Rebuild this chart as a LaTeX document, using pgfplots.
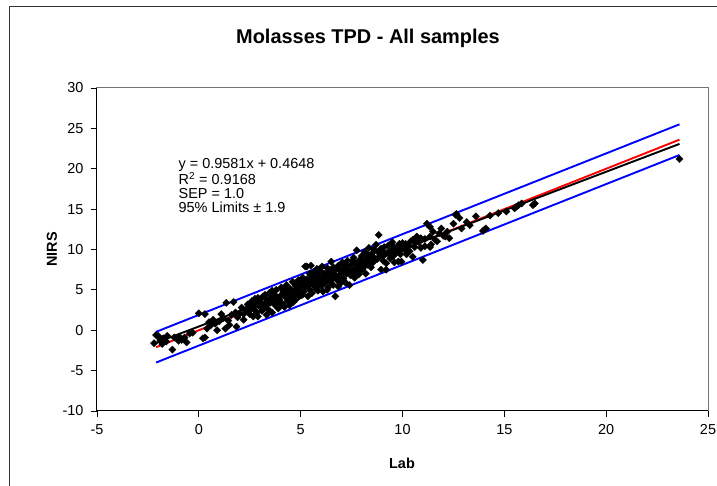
\documentclass[border=0pt]{standalone}
\usepackage{pgfplots}
\pgfplotsset{compat=1.18}
\usepackage{fontspec}
\setmainfont{Liberation Sans}
\begin{document}
\begin{tikzpicture}[x=1bp,y=1bp]
\useasboundingbox (-97,-75) rectangle (620,411);
\draw[line width=1bp, black!80] (-87,-90) -- (-87,404) -- (640,404);
\begin{axis}[
  at={(0,0)}, anchor=south west,
  scale only axis, width=611bp, height=323bp,
  xmin=-5, xmax=25, ymin=-10, ymax=30,
  xtick={-5,0,...,25}, ytick={-10,-5,...,30},
  xtick pos=left, ytick pos=left,
  tick align=outside, major tick length=6bp,
  tick style={black, line width=0.8bp},
  axis line style={draw=black!55, line width=1bp},
  /pgf/number format/assume math mode=true,
  ticklabel style={font=\fontsize{14.5}{17}\selectfont},
  xticklabel style={yshift=-4bp},
  yticklabel style={xshift=-4bp},
  clip=false,
]
\addplot[blue, line width=1.9bp] coordinates {(-2.1,-0.2) (23.6,25.5)};
\addplot[blue, line width=1.9bp] coordinates {(-2.1,-4.0) (23.6,21.7)};
\addplot[red, line width=1.9bp] coordinates {(-2.1,-2.1) (23.6,23.6)};
\addplot[only marks, mark=square*, mark size=2.6bp, mark options={rotate=45, fill=black, draw=black, line width=0.2bp}] coordinates {
(-2.1,-0.6) (-2.0,-0.7) (-1.9,-1.2) (-1.75,-1.0) (-1.6,-1.4) (-1.55,-0.7) (-1.3,-2.4) (-1.2,-0.9) (-0.95,-0.8) (-0.85,-1.2) (-0.6,-1.5) (-0.45,-0.4) (-0.3,-0.3) (-0.7,-0.9) (-1.0,-1.3) (-2.2,-1.6) (-1.8,-1.7)
(0.3,2.0) (0.3,-0.9) (0.2,-1.0) (0.6,0.65) (0.9,0.0) (1.2,1.5) (1.3,0.2) (1.5,0.65) (1.85,0.45) (1.35,3.4) (1.7,3.5) (0.0,2.1) (0.5,1.0) (0.7,1.3) (1.0,1.1) (1.1,2.0) (1.6,1.9) (1.8,2.2) (1.9,1.6) (0.4,0.2) (0.8,0.8) (1.45,1.2)
(2.0,2.1) (2.2,1.3) (2.3,2.5) (2.35,2.5) (2.67,1.7) (2.9,1.7) (3.0,2.9) (3.33,1.9) (2.1,2.8) (2.4,3.2) (2.5,2.0) (2.6,3.6) (2.7,2.6) (2.8,3.3) (2.9,4.0) (3.0,3.5) (3.1,2.4) (3.15,4.2) (3.2,3.0) (3.3,3.9) (3.4,2.6) (3.45,4.6) (3.5,3.4) (3.55,4.0) (3.6,2.2) (3.7,4.4) (3.75,3.1) (3.8,5.0) (3.85,3.7) (3.9,2.7) (4.0,4.2) (4.05,5.3) (4.1,3.3) (4.15,4.8) (4.2,2.9) (4.25,4.1) (4.3,5.6) (4.35,3.6) (4.4,4.6) (4.45,3.1) (4.5,5.1) (4.55,4.0) (4.6,6.0) (4.65,3.5) (4.7,4.9) (4.75,5.5) (4.8,3.9) (4.85,4.5) (4.9,6.2) (4.95,5.0) (2.2,2.0) (2.55,2.9) (2.75,3.9) (3.05,3.9) (3.25,4.4) (3.65,3.6) (3.95,3.8) (4.35,4.9) (4.75,4.2) (3.35,3.2)
(2.45,2.4) (2.65,3.0) (2.85,2.2) (3.1,3.3) (3.25,2.8) (3.45,3.8) (3.6,4.9) (3.8,4.2) (3.95,3.2) (4.1,4.5) (4.2,5.1) (4.4,3.9) (4.55,4.6) (4.7,5.8) (4.85,5.2)
(5.0,4.3) (5.05,5.8) (5.1,6.5) (5.15,4.8) (5.22,7.9) (5.3,7.9) (5.5,8.0) (5.25,5.4) (5.35,4.2) (5.4,6.1) (5.45,5.0) (5.5,6.8) (5.55,4.6) (5.6,5.7) (5.65,7.2) (5.7,6.3) (5.75,5.1) (5.8,6.9) (5.85,4.9) (5.9,6.0) (5.95,7.4) (6.0,5.5) (6.05,6.6) (6.1,4.8) (6.15,7.0) (6.2,5.9) (6.25,6.4) (6.3,7.7) (6.35,5.3) (6.4,6.8) (6.45,6.0) (6.5,8.5) (6.55,7.3) (6.6,5.6) (6.65,6.9) (6.7,4.2) (6.75,7.6) (6.8,6.2) (6.85,8.0) (6.9,6.7) (6.95,5.8) (7.0,7.2) (7.05,8.4) (7.1,6.4) (7.15,7.8) (7.2,5.9) (7.25,7.0) (7.3,8.6) (7.35,7.5) (7.4,5.6) (7.45,6.8) (7.5,8.1) (7.55,7.3) (7.6,9.0) (7.65,6.5) (7.7,8.3) (7.75,9.9) (7.8,7.8) (7.85,6.9) (7.9,8.7) (7.95,7.4) (5.6,6.4) (5.85,5.6) (6.1,6.2) (6.4,7.4) (6.6,6.5) (6.9,7.5) (7.2,7.6) (7.5,7.0) (5.2,5.9) (5.45,7.0) (6.05,7.9) (6.3,5.0) (6.95,6.3)
(5.0,5.5) (5.1,4.4) (5.3,6.3) (5.4,5.5) (5.55,6.0) (5.7,5.4) (5.8,7.6) (5.95,6.4) (6.1,5.7) (6.2,6.9) (6.35,7.1) (6.5,6.3) (6.6,7.8) (6.75,6.7) (6.85,5.4) (7.0,6.0) (7.1,7.3) (7.25,8.0) (7.4,7.1) (7.55,8.6) (7.7,7.4) (7.85,8.0)
(8.0,9.2) (8.05,7.6) (8.1,8.5) (8.15,9.7) (8.2,7.0) (8.25,8.9) (8.3,8.1) (8.35,10.2) (8.4,9.0) (8.45,7.8) (8.5,9.5) (8.55,8.4) (8.6,10.0) (8.7,10.6) (8.75,8.8) (8.83,11.8) (8.9,9.3) (8.95,7.5) (9.0,9.8) (9.05,8.6) (9.1,10.3) (9.2,8.3) (9.2,7.5) (9.25,9.6) (9.3,10.5) (9.4,8.9) (9.45,9.9) (9.5,10.9) (9.55,9.2) (9.6,8.4) (9.65,10.1) (9.7,9.6) (9.8,8.5) (9.85,10.7) (9.9,9.9) (10.0,10.6) (10.0,10.8) (9.95,8.5) (10.1,10.0) (10.2,9.4) (10.3,10.4) (10.4,11.0) (10.5,9.1) (10.5,11.2) (10.6,10.3) (10.7,11.6)
(8.0,8.3) (8.15,8.0) (8.3,9.4) (8.45,8.6) (8.6,9.0) (8.8,9.7) (8.95,10.1) (9.1,9.3) (9.35,9.5) (9.55,10.4) (9.75,10.3) (9.9,9.4) (10.15,10.7) (10.35,9.8) (10.6,11.0) (10.9,10.2) (11.1,11.3)
(10.8,10.9) (10.9,11.4) (11.0,8.7) (11.1,10.4) (11.2,13.2) (11.35,12.8) (11.5,12.2) (11.35,11.6) (11.4,10.6) (11.35,10.3) (11.6,11.2) (11.8,12.0) (12.0,11.7) (12.1,11.6) (12.2,12.2) (12.3,11.4) (12.5,13.2) (12.6,14.3) (12.65,14.4) (12.8,13.9) (13.15,13.4) (13.3,13.0) (12.9,12.6) (11.9,12.6) (11.7,11.0)
(13.6,14.1) (14.05,12.5) (14.1,12.6) (13.95,12.3) (14.7,14.5) (15.1,14.7) (15.5,15.1) (15.6,15.3) (15.7,15.5) (15.85,15.7) (16.4,15.5) (16.5,15.7) (14.3,14.2)
(23.6,21.2)
};
\addplot[black, line width=1.9bp] coordinates {(-2.1,-1.547) (23.6,23.076)};
\draw[black, line width=1bp] (rel axis cs:0,1) -- (rel axis cs:0,0) -- (rel axis cs:1,0);
\node[anchor=north west, align=left, inner sep=0pt, font=\fontsize{14.5}{13.8}\selectfont] at (axis cs:-1.0,21.3)
  {y = 0.9581x + 0.4648\\R\textsuperscript{2} = 0.9168\\SEP = 1.0\\95\% Limits ± 1.9};
\end{axis}
\node[font=\bfseries\fontsize{20}{24}\selectfont] at (271,373) {Molasses TPD - All samples};
\node[font=\bfseries\fontsize{14.5}{17}\selectfont, rotate=90] at (-45,161.5) {NIRS};
\node[font=\bfseries\fontsize{14.5}{17}\selectfont] at (305,-52) {Lab};
\end{tikzpicture}
\end{document}
